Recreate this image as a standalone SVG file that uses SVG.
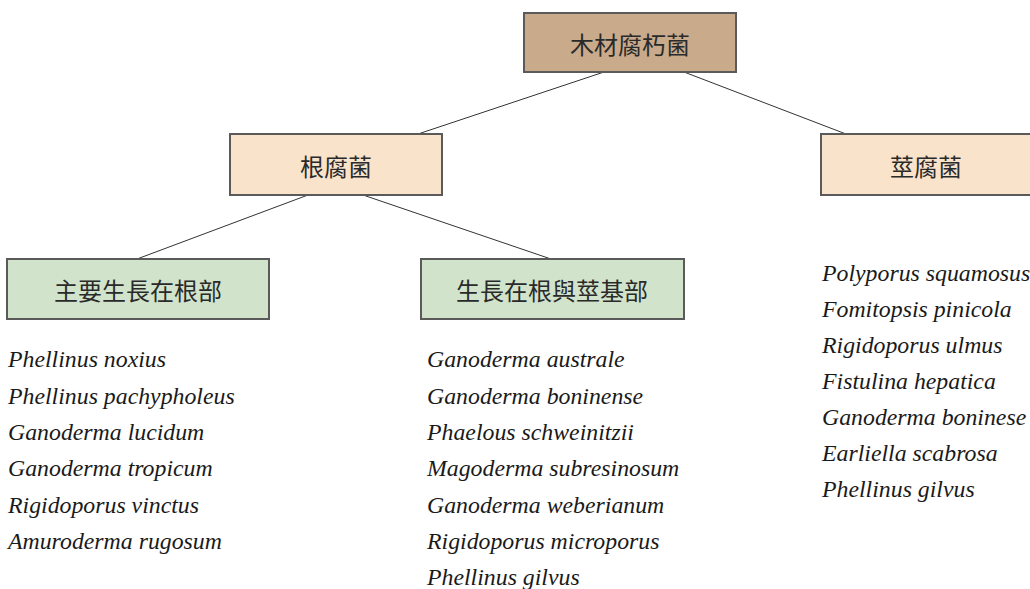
<svg xmlns="http://www.w3.org/2000/svg" width="1030" height="589" viewBox="0 0 1030 589">
<style>
.box{stroke:#5a5a5a;stroke-width:2}
.root{fill:#c9aa8b}
.mid{fill:#f9e4cb}
.leaf{fill:#d1e4cb}
.cjk{font-family:"Noto Sans CJK TC","Noto Sans CJK SC",sans-serif;font-size:24px;fill:#2a2a2a;text-anchor:middle;dominant-baseline:central}
.sp{font-family:"Liberation Serif",serif;font-style:italic;font-size:23.8px;fill:#1a1a1a}
.conn{stroke:#333;stroke-width:1;fill:none}
</style>
<rect width="1030" height="589" fill="#fff"/>
<g id="connectors">
<line class="conn" x1="604" y1="72" x2="418" y2="134"/>
<line class="conn" x1="684" y1="72" x2="846" y2="134"/>
<line class="conn" x1="308" y1="195" x2="137" y2="259"/>
<line class="conn" x1="363" y1="195" x2="551" y2="259"/>
</g>
<g id="n-root">
<rect class="box root" x="524" y="13" width="212" height="59"/>
<text class="cjk" x="630" y="43">木材腐朽菌</text>
</g>
<g id="n-rootrot">
<rect class="box mid" x="230" y="134" width="212" height="61"/>
<text class="cjk" x="336" y="165">根腐菌</text>
</g>
<g id="n-stemrot">
<rect class="box mid" x="821" y="134" width="220" height="61"/>
<text class="cjk" x="926" y="165">莖腐菌</text>
</g>
<g id="n-mainroot">
<rect class="box leaf" x="7" y="259" width="262" height="60"/>
<text class="cjk" x="138" y="289">主要生長在根部</text>
</g>
<g id="n-rootstem">
<rect class="box leaf" x="421" y="259" width="263" height="60"/>
<text class="cjk" x="552" y="289">生長在根與莖基部</text>
</g>
<g id="list-mainroot">
<text class="sp" x="8" y="367">Phellinus noxius</text>
<text class="sp" x="8" y="404">Phellinus pachypholeus</text>
<text class="sp" x="8" y="440">Ganoderma lucidum</text>
<text class="sp" x="8" y="476">Ganoderma tropicum</text>
<text class="sp" x="8" y="513">Rigidoporus vinctus</text>
<text class="sp" x="8" y="549">Amuroderma rugosum</text>
</g>
<g id="list-rootstem">
<text class="sp" x="427" y="367">Ganoderma australe</text>
<text class="sp" x="427" y="404">Ganoderma boninense</text>
<text class="sp" x="427" y="440">Phaelous schweinitzii</text>
<text class="sp" x="427" y="476">Magoderma subresinosum</text>
<text class="sp" x="427" y="513">Ganoderma weberianum</text>
<text class="sp" x="427" y="549">Rigidoporus microporus</text>
<text class="sp" x="427" y="585">Phellinus gilvus</text>
</g>
<g id="list-stemrot">
<text class="sp" x="822" y="281">Polyporus squamosus</text>
<text class="sp" x="822" y="317">Fomitopsis pinicola</text>
<text class="sp" x="822" y="353">Rigidoporus ulmus</text>
<text class="sp" x="822" y="389">Fistulina hepatica</text>
<text class="sp" x="822" y="425">Ganoderma boninese</text>
<text class="sp" x="822" y="461">Earliella scabrosa</text>
<text class="sp" x="822" y="497">Phellinus gilvus</text>
</g>
</svg>
